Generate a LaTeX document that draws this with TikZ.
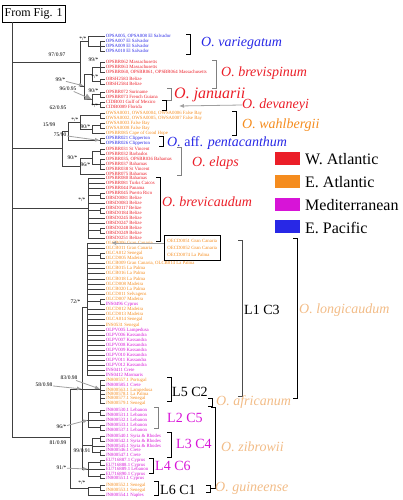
\documentclass[tikz,border=0pt]{standalone}
\usepackage{fontspec}
\setmainfont{Liberation Serif}
\usetikzlibrary{arrows.meta}
\tikzset{>=latex}
\definecolor{watl}{RGB}{235,30,40}
\definecolor{eatl}{RGB}{245,140,30}
\definecolor{medi}{RGB}{215,20,215}
\definecolor{epac}{RGB}{40,40,230}
\definecolor{pale}{RGB}{242,188,135}
\tikzset{
    tip/.style={anchor=west, inner xsep=0.6pt, inner ysep=0pt, font=\fontsize{4.8}{5}\selectfont},
    boot/.style={anchor=east, inner sep=0.4pt, font=\fontsize{5.5}{6}\selectfont},
    branch/.style={draw=black!75, line width=0.45pt},
    pointer/.style={draw=gray!75, line width=0.8pt, -{Latex[length=5pt,width=4pt]}},
    species/.style={anchor=west, inner sep=0pt, font=\fontsize{14}{16}\selectfont\itshape},
    lineage/.style={anchor=west, inner sep=0pt, font=\fontsize{14}{16}\selectfont},
    key/.style={anchor=west, inner sep=0pt, font=\fontsize{16}{18}\selectfont}
}
\newcommand{\clade}[4][black]{
    \draw[#1, line width=0.6pt] (#2-4,#3) -- (#2,#3) -- (#2,#4) -- (#2-4,#4);
}

\begin{document}
\begin{tikzpicture}[x=1pt, y=-1pt]
    \useasboundingbox (0,0) rectangle (403,500);

    \node[draw, anchor=north west, minimum width=63pt, minimum height=17pt, inner sep=1pt,
          font=\fontsize{12}{14}\selectfont] (fig) at (2,5) {From Fig. 1};
    \coordinate (root) at ([xshift=10pt]fig.south west);

    % tips
    \foreach \y/\c/\t [count=\i] in {
        36/epac/{OPSA005, OPSA008 El Salvador},
        41/epac/OPSA007 El Salvador,
        46/epac/OPSA009 El Salvador,
        51/epac/OPSA010 El Salvador,
        62/watl/OPSBR062 Massachusetts,
        67/watl/OPSBR063 Massachusetts,
        72/watl/{OPSBR060, OPSBR061, OPSBR064 Massachusetts},
        79/watl/OBSH2583 Belize,
        84/watl/OBSH2584 Belize,
        92/watl/OPSBR072 Suriname,
        97/watl/OPSBR073 French Guiana,
        102/watl/CIDB001 Gulf of Mexico,
        107/watl/CIDB0089 Florida,
        113/eatl/{OWSA0001, OWSA0004, OWSA0006 False Bay},
        118/eatl/{OWSA0002, OWSA0005, OWSA0007 False Bay},
        123/eatl/OWSA0003 False Bay,
        128/eatl/OWSA0008 False Bay,
        133/eatl/OPSBR085 Cape of Good Hope,
        138/epac/OPSBR021 Clipperton,
        143/epac/OPSBR026 Clipperton,
        149/watl/OPSBR031 St Vincent,
        154/watl/OPSBR032 Barbados,
        159/watl/{OPSBR035, OPSBR036 Bahamas},
        164/watl/OPSBR037 Bahamas,
        169/watl/OPSBR038 St Vincent,
        174/watl/OPSBR075 Bahamas,
        178/watl/OPSBR080 Bahamas,
        183/watl/OPSBR081 Turks Caicos,
        188/watl/OPSBR044 Panama,
        193/watl/OPSBR045 Puerto Rico,
        198/watl/OBSD0081 Belize,
        203/watl/OBSD0083 Belize,
        208/watl/OBSD0117 Belize,
        213/watl/OBSD0184 Belize,
        218/watl/OBSD0245 Belize,
        223/watl/OBSD0247 Belize,
        228/watl/OBSD0248 Belize,
        233/watl/OBSD0249 Belize,
        238/watl/OBSD0251 Belize,
        243/eatl/OLCB006 Gran Canaria,
        248/eatl/OLCB011 Gran Canaria,
        253/eatl/OLCA012 Senegal,
        258/eatl/OLCD005 Madeira,
        263/eatl/{OLCB009 Gran Canaria, OLCB014 La Palma},
        268/eatl/OLCB015 La Palma,
        273/eatl/OLCB016 La Palma,
        279/eatl/OLCB018 La Palma,
        284/eatl/OLCD008 Madeira,
        289/eatl/OLCB020 La Palma,
        294/eatl/OLCD011 Selvagens,
        299/eatl/OLCD007 Madeira,
        304/medi/INS0496 Cyprus,
        309/eatl/OLCD012 Madeira,
        314/eatl/OLCD013 Madeira,
        319/eatl/OLCA014 Senegal,
        325/eatl/INS0531 Senegal,
        330/medi/OLPV005 Lampedusa,
        335/medi/OLPV006 Kassandra,
        340/medi/OLPV007 Kassandra,
        345/medi/OLPV008 Kassandra,
        350/medi/OLPV009 Kassandra,
        355/medi/OLPV010 Kassandra,
        360/medi/OLPV011 Kassandra,
        365/medi/OLPV012 Kassandra,
        370/medi/INS0411 Crete,
        375/medi/INS0412 Marmaris,
        380/eatl/JN800557.1 Portugal,
        385/medi/JN800585.1 Crete,
        390/eatl/JN800563.1 Lampedusa,
        394/eatl/JN800578.1 La Palma,
        398/eatl/JN800577.1 Senegal,
        403/eatl/JN800579.1 Senegal,
        410/medi/JN800530.1 Lebanon,
        415/medi/JN800531.1 Lebanon,
        420/medi/JN800532.1 Lebanon,
        425/medi/JN800533.1 Lebanon,
        430/medi/JN800537.1 Lebanon,
        436/medi/JN800540.1 Syria \& Rhodes,
        441/medi/JN800542.1 Syria \& Rhodes,
        446/medi/JN800545.1 Syria \& Rhodes,
        450/medi/JN800546.1 Crete,
        455/medi/JN800547.1 Crete,
        460/medi/EU716887.1 Cyprus,
        465/medi/EU716888.1 Cyprus,
        469/medi/EU716889.1 Lebanon,
        474/medi/EU716890.1 Cyprus,
        478/medi/JN800551.1 Cyprus,
        485/eatl/JN800552.1 Senegal,
        490/eatl/JN800553.1 Senegal,
        495/medi/JN800554.1 Naples}{
        \coordinate (T\i) at (105,\y);
        \node[tip, text=\c] (L\i) at (T\i) {\t};
    }

    % internal nodes
    \coordinate (N1) at (80,62);
    \coordinate (V) at (88,41);
    \coordinate (V1) at (100,46);
    \coordinate (N2) at (84,86);
    \coordinate (B) at (92,74);
    \coordinate (Bv) at (100,67);
    \coordinate (Bz) at (100,81.5);
    \coordinate (J) at (92,99.5);
    \coordinate (Jj) at (100,94.5);
    \coordinate (Jd) at (100,104.5);
    \coordinate (W) at (62,148);
    \coordinate (W1) at (68,131);
    \coordinate (Wa) at (80,122);
    \coordinate (Wa0) at (100,115.5);
    \coordinate (Wa1) at (92,129);
    \coordinate (Wa2) at (100,125.5);
    \coordinate (Pe) at (100,140.5);
    \coordinate (El) at (80,166);
    \coordinate (El1) at (92,157.75);
    \coordinate (Ea) at (100,151.5);
    \coordinate (Eb) at (100,164);
    \coordinate (Bc) at (88,208);
    \coordinate (Ba) at (100,195.5);
    \coordinate (Bb) at (100,210.5);
    \coordinate (Bd) at (100,230.5);
    \coordinate (Z) at (70,437);
    \coordinate (Y) at (82,389);
    \coordinate (L1) at (87,307);
    \coordinate (La) at (100,255.5);
    \coordinate (Lb) at (100,301.5);
    \coordinate (L5) at (100,389);
    \coordinate (L2) at (88,420);
    \coordinate (Ma) at (100,412.5);
    \coordinate (Mb) at (100,427.5);
    \coordinate (L3) at (92,445.5);
    \coordinate (Na) at (100,438.5);
    \coordinate (Nb) at (100,452.5);
    \coordinate (L4) at (88,469);
    \coordinate (Qa) at (100,462.5);
    \coordinate (Qb) at (100,476);
    \coordinate (L6) at (88,488);
    \coordinate (Ra) at (100,487.5);

    % branches
    \foreach \a/\b in {root/N1, root/W, root/Bc, root/Z,
        N1/V, N1/N2, V/T1, V/V1, V1/T2, V1/T3, V1/T4,
        N2/B, N2/J, B/Bv, B/Bz, Bv/T5, Bv/T6, Bv/T7, Bz/T8, Bz/T9,
        J/Jj, J/Jd, Jj/T10, Jj/T11, Jd/T12, Jd/T13,
        W/W1, W/El, W1/Wa, W1/Pe, Wa/Wa0, Wa/Wa1, Wa0/T14, Wa0/T15,
        Wa1/Wa2, Wa1/T18, Wa2/T16, Wa2/T17, Pe/T19, Pe/T20,
        El/El1, El/T26, El1/Ea, El1/Eb, Ea/T21, Ea/T22, Eb/T23, Eb/T24, Eb/T25,
        Bc/T27, Bc/T28, Bc/T29, Bc/Ba, Bc/T32, Bc/Bb, Bc/T35, Bc/T36, Bc/Bd, Bc/T39,
        Ba/T30, Ba/T31, Bb/T33, Bb/T34, Bd/T37, Bd/T38,
        Z/Y, Z/L6, Y/L1, Y/L5, Y/L2, Y/L3, Y/L4,
        L1/T40, L1/T41, L1/La, L1/T44, L1/T45, L1/T46, L1/T47, L1/T48, L1/T49, L1/T50,
        L1/Lb, L1/T53, L1/T54, L1/T55, L1/T56, L1/T57, L1/T58, L1/T59, L1/T60,
        L1/T61, L1/T62, L1/T63, L1/T64, L1/T65, L1/T66,
        La/T42, La/T43, Lb/T51, Lb/T52,
        L5/T67, L5/T68, L5/T69, L5/T70, L5/T71, L5/T72,
        L2/Ma, L2/T75, L2/Mb, Ma/T73, Ma/T74, Mb/T76, Mb/T77,
        L3/Na, L3/T80, L3/Nb, Na/T78, Na/T79, Nb/T81, Nb/T82,
        L4/Qa, L4/T85, L4/Qb, Qa/T83, Qa/T84, Qb/T86, Qb/T87,
        L6/Ra, L6/T90, Ra/T88, Ra/T89}
        \draw[branch] (\a) |- (\b);

    % support values
    \node[boot] (b1) at (87,39) {*/*};
    \node[boot] (b2) at (66,55) {97/0.97};
    \node[boot] (b3) at (99,60) {99/*};
    \node[boot] (b4) at (66,80) {99/*};
    \node[boot] (b5) at (99,77) {*/*};
    \node[boot] (b6) at (77,89) {96/0.95};
    \node[boot] (b7) at (99,91) {90/*};
    \node[boot] (b8) at (67,108) {62/0.95};
    \node[boot] (b9) at (99,106) {*/*};
    \node[boot] (b10) at (56,125) {15/99};
    \node[boot] (b11) at (79,120) {*/*};
    \node[boot] (b12) at (91,127) {90/*};
    \node[boot] (b13) at (67,135) {75/90};
    \node[boot] (b14) at (78,158) {90/*};
    \node[boot] (b15) at (91,165) {96/*};
    \node[boot] (b16) at (86,200) {*/*};
    \node[boot] (b17) at (81,302) {72/*};
    \node[boot] (b18) at (78,378) {83/0.98};
    \node[boot] (b19) at (53,385) {58/0.98};
    \node[boot] (b20) at (67,427) {96/*};
    \node[boot] (b21) at (67,443) {81/0.99};
    \node[boot] (b22) at (91,451) {99/0.91};
    \node[boot] (b23) at (67,468) {91/*};
    \node[boot] (b24) at (86,483) {*/*};

    \draw[pointer] (b4) -- (N2);
    \draw[pointer, -{Latex[length=7pt,width=7pt]}] (b6) -- (J);
    \draw[pointer] (b13) -- (Pe);
    \draw[pointer] (b19) -- (Y);
    \draw[pointer] (b18) -- (L5);
    \draw[pointer] (b20) -- (L2);
    \draw[pointer] (b23) -- (L4);

    % boxed Canary samples
    \node[draw, anchor=north west, minimum width=56pt, minimum height=25pt, inner sep=1.5pt,
          align=left, text=eatl, font=\fontsize{4.8}{7}\selectfont] (gcbox) at (164,235)
          {OECD0051 Gran Canaria\\OECD0052 Gran Canaria\\OECD0074 La Palma};
    \draw[pointer] (gcbox.west |- L40) -- ([xshift=6pt]L40.west);

    % clade brackets
    \clade{190}{34}{54}
    \clade[gray]{216}{60}{88}
    \clade[gray]{171}{88}{100}
    \clade{166}{100}{110}
    \clade{236}{111}{135}
    \clade{163}{136}{146}
    \clade[gray]{181}{147}{175}
    \clade{160}{177}{241}
    \clade[gray!60!black]{242}{240}{396}
    \clade{297}{238}{398}
    \clade{171}{377}{401}
    \clade[gray]{158}{407}{428}
    \clade{171}{432}{457}
    \clade{153}{458}{473}
    \clade{158}{481}{495}
    \clade{212}{398}{406}
    \clade{215}{407}{488}
    \clade{210}{485}{492}

    % species and lineages
    \node[species, text=epac] (svar) at (201,43) {O. variegatum};
    \node[species, text=watl] (sbre) at (221,73) {O. brevispinum};
    \node[species, text=watl, font=\fontsize{16}{18}\selectfont\itshape] (sjan) at (174,95) {O. januarii};
    \node[species, text=watl] (sdev) at (242,105) {O. devaneyi};
    \node[species, text=eatl] (swah) at (242,125) {O. wahlbergii};
    \node[species, text=epac] (spen) at (167,143) {O. \textup{aff.} pentacanthum};
    \node[species, text=watl] (sela) at (192,163) {O. elaps};
    \node[species, text=watl] (sbrc) at (162,202) {O. brevicaudum};
    \node[lineage] (l1) at (244,310) {L1 C3};
    \node[species, text=pale] (slon) at (299,310) {O. longicaudum};
    \node[lineage] (l5) at (172,392) {L5 C2};
    \node[species, text=pale] (safr) at (216,402) {O. africanum};
    \node[lineage, text=medi] (l2) at (167,418) {L2 C5};
    \node[lineage, text=medi] (l3) at (176,444) {L3 C4};
    \node[species, text=pale] (szib) at (221,447) {O. zibrowii};
    \node[lineage, text=medi] (l4) at (155,466) {L4 C6};
    \node[lineage] (l6) at (160,490) {L6 C1};
    \node[species, text=pale] (sgui) at (215,488) {O. guineense};

    \coordinate (devtip) at (179,106);
    \draw[pointer] (sdev.west) -- (devtip);

    % legend
    \foreach \c/\t [count=\k] in {watl/W. Atlantic, eatl/E. Atlantic, medi/Mediterranean, epac/E. Pacific}{
        \node[fill=\c, minimum width=25pt, minimum height=13pt, inner sep=0pt, anchor=west] (swatch\k) at (275,135.7+22.8*\k) {};
        \node[key] (key\k) at (305,136.5+22.8*\k) {\t};
    }
\end{tikzpicture}
\end{document}
